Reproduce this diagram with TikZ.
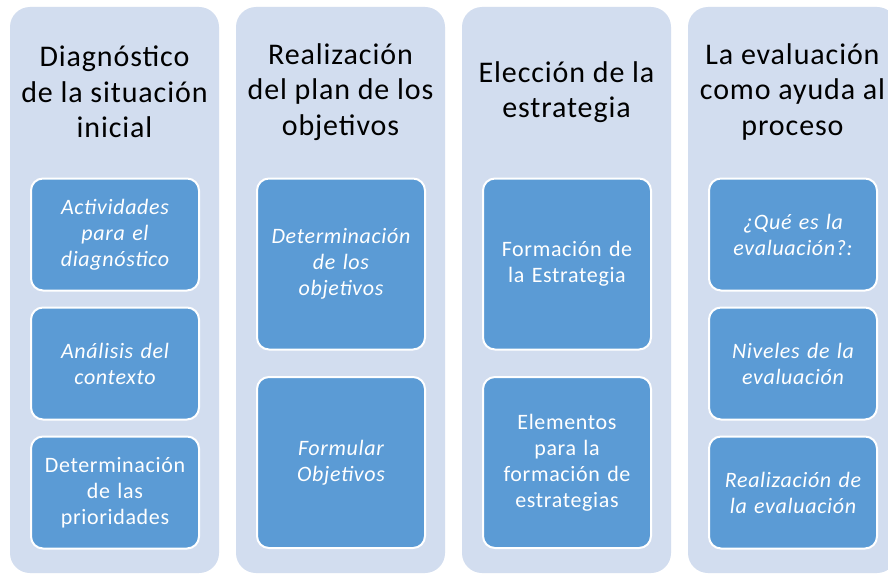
\documentclass[tikz,border=0pt]{standalone}
\usepackage{fontspec}
\setmainfont{Carlito}[LetterSpace=3]
\definecolor{bgcol}{HTML}{D2DDEF}
\definecolor{boxcol}{HTML}{5B9BD5}
\tikzset{
  colbg/.style={fill=bgcol, draw=none, rounded corners=20pt, minimum width=209pt, minimum height=566pt, inner sep=0pt},
  title/.style={align=center, font=\fontsize{30}{35.5}\selectfont, text=black},
  itembox/.style={fill=boxcol, draw=white, line width=2pt, rounded corners=12pt, minimum width=168pt, text width=164pt, align=center, text=white, font=\fontsize{22}{26}\selectfont, inner sep=0pt},
  smallbox/.style={itembox, minimum height=112pt},
  bigbox/.style={itembox, minimum height=171pt}
}
\begin{document}
\begin{tikzpicture}[x=1pt,y=-1pt]
\useasboundingbox (0,0) rectangle (888,575);
\clip (0,0) rectangle (888,575);
\fill[white] (0,0) rectangle (888,575);
% column backgrounds
\node[colbg] (c1) at (114.5,290) {};
\node[colbg] (c2) at (340.5,290) {};
\node[colbg] (c3) at (566.5,290) {};
\node[colbg] (c4) at (792.5,290) {};
% titles
\node[title] (t1) at (114.5,92) {Diagnóstico\\de la situación\\inicial};
\node[title] (t2) at (340.5,92) {Realización\\del plan de los\\objetivos};
\node[title] (t3) at (566.5,92) {Elección de la\\estrategia};
\node[title] (t4) at (792.5,92) {La evaluación\\como ayuda al\\proceso};
% column 1
\node[smallbox] (a1) at (115,234.5) {\itshape Actividades\\para el\\diagnóstico};
\node[smallbox] (a2) at (115,363.5) {\itshape Análisis del\\contexto};
\node[smallbox] (a3) at (115,492.5) {Determinación\\de las\\prioridades};
% column 2
\node[bigbox] (b1) at (341,264) {\itshape Determinación\\de los\\objetivos};
\node[bigbox] (b2) at (341,462.5) {\itshape Formular\\Objetivos};
% column 3
\node[bigbox] (d1) at (567,264) {Formación de\\la Estrategia};
\node[bigbox] (d2) at (567,462.5) {Elementos\\para la\\formación de\\estrategias};
% column 4
\node[smallbox] (e1) at (793,234.5) {\itshape ¿Qué es la\\evaluación?:};
\node[smallbox] (e2) at (793,363.5) {\itshape Niveles de la\\evaluación};
\node[smallbox] (e3) at (793,492.5) {\itshape Realización de\\la evaluación};
\end{tikzpicture}
\end{document}
